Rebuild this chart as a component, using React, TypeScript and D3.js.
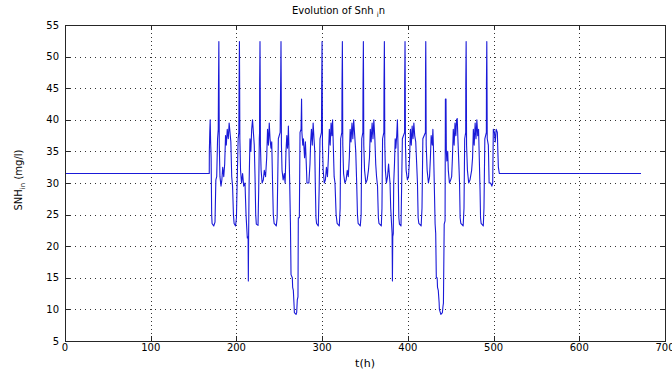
import React from 'react';
import * as d3 from 'd3';

const xTicks = [0, 100, 200, 300, 400, 500, 600, 700];
const yTicks = [5, 10, 15, 20, 25, 30, 35, 40, 45, 50, 55];

// [t (h), SNH_in (mg/l)]
const snhIn: [number, number][] = [
  [0, 31.5], [168.3, 31.5],
  // day 1
  [168.4, 35], [168.9, 38], [169.4, 40], [169.9, 36.5], [170.5, 34], [171.1, 25], [171.6, 23.6], [173.5, 23.2], [175, 23.8], [176, 30.5], [177, 31], [178, 37], [178.8, 38.5], [179.1, 46], [179.3, 49], [179.5, 52.4], [179.7, 46], [180.0, 36],
  [180.8, 31], [182, 29.5], [183, 30.5], [184, 32.5], [185.2, 31], [186.3, 33], [187.3, 37.5], [188.2, 36], [189.3, 38.5], [190.5, 37], [191.5, 39.5], [192.5, 38], [193.5, 36.5], [194.5, 31], [195.5, 29.5], [196.5, 25], [197.3, 23.6], [199, 23.2], [200, 24.5], [201, 31], [202, 37], [202.8, 38], [203.1, 46], [203.3, 49], [203.5, 52.4], [203.7, 47], [204, 37],
  // day 2
  [204.8, 32], [206, 30], [207.2, 31.5], [208.5, 29.5], [210, 30], [211.2, 25], [212.7, 21.3], [213.6, 21.5], [213.9, 14.5], [214.2, 21.3], [214.8, 30], [215.8, 37], [216.8, 35], [217.8, 38.5], [218.8, 40], [219.8, 38], [220.8, 36], [221.7, 31], [222.5, 25], [223.2, 23.5], [225.2, 23.3], [226, 29], [226.7, 37], [227, 38], [227.1, 46], [227.3, 49], [227.5, 52.4], [227.7, 47], [228, 36],
  // day 3
  [228.8, 32], [230, 30], [231.4, 30.5], [232.5, 32], [234, 31], [235.3, 34], [236.3, 38.5], [237.3, 36], [238.3, 39.5], [239.2, 37], [240.3, 35.5], [241.2, 36.5], [242, 31], [243, 25], [244, 23.6], [246.5, 23.2], [247.5, 24.5], [248.9, 37], [251, 38], [251.6, 46], [251.8, 49], [252, 52.4], [252.2, 47], [252.5, 36],
  // days 4-5
  [253.2, 32], [254.5, 30.5], [255.8, 31.5], [256.8, 30], [257.8, 35], [258.8, 37.5], [259.6, 35.5], [260.3, 37], [260.6, 39], [261.2, 36], [262, 31], [263, 23.6], [263.7, 15.5], [265.2, 15], [265.6, 13.5], [266.4, 13], [267.3, 10.5], [267.6, 9.5], [269.6, 9.2], [270.3, 9.5], [271, 11.5], [271.8, 12], [272.2, 24.5], [273.4, 24.5], [274.2, 38], [275.4, 38.5], [276, 43.3], [276.4, 38], [277.4, 36], [278.2, 37], [279.5, 34], [280.5, 36.5], [281.5, 33], [282.3, 30], [284.5, 30], [285.8, 33], [286.6, 36.5], [287.5, 38.5], [288.5, 36], [289.5, 39.5], [290.5, 37], [291.4, 35], [292, 30], [292.8, 24.5], [293.5, 23.6], [295.5, 23.2], [296.5, 29], [297.5, 37], [299.2, 38], [299.5, 46], [299.7, 49], [299.9, 52.4], [300.1, 47], [300.4, 36],
  // day 6
  [301.2, 32], [302.5, 30], [303.8, 30.5], [305, 32.5], [306.2, 31], [307.3, 34], [308.4, 38.5], [309.4, 36], [310.4, 39.5], [311.4, 37.5], [312.2, 40], [313, 36], [314, 31], [315, 30], [316.3, 25], [317.5, 23.6], [320, 23.2], [321, 26], [321.6, 37], [323, 38], [323.2, 46], [323.4, 49], [323.6, 52.4], [323.8, 47], [324.1, 36],
  // day 7
  [325, 31.5], [326.5, 30], [328, 30.5], [329.3, 32], [330.5, 31], [331.7, 34], [332.7, 38.5], [333.7, 36.5], [334.8, 39.5], [335.8, 37], [336.8, 40], [338, 37.5], [339.2, 35], [340.3, 30], [341.2, 25], [342, 23.6], [344.5, 23.2], [345.5, 25], [346.2, 37], [347.5, 38], [347.7, 46], [347.9, 49], [348.1, 52.4], [348.3, 47], [348.6, 36],
  // day 8
  [349.5, 32], [351, 30], [352.5, 30.5], [354, 32], [355.2, 34], [356.2, 38.5], [357.2, 36.5], [358.3, 39.5], [359.3, 37], [360.3, 40], [361.5, 37], [362.5, 33], [363.5, 31], [364.6, 29.5], [365.6, 24.5], [366.3, 23.6], [369, 23.2], [369.8, 26], [370.5, 37], [372, 38], [372.2, 46], [372.4, 49], [372.6, 52.4], [372.8, 47], [373.1, 36],
  // day 9
  [373.8, 32], [375, 30], [376.3, 31], [377.5, 33], [378.3, 31.5], [379.2, 30], [380, 26], [381, 23.5], [381.6, 22], [382, 14.5], [382.4, 21.5], [383, 22], [383.5, 30], [384.4, 33], [385.2, 37], [386, 35.5], [387, 37.5], [387.8, 40], [388.5, 36], [389, 29], [389.5, 24.5], [390.2, 23.5], [392, 23.2], [392.8, 30], [393.6, 37], [396.2, 38], [396.3, 46], [396.5, 49], [396.7, 52.4], [396.9, 47], [397.2, 36],
  // day 10
  [398, 32], [399.5, 30.5], [400.8, 31], [402, 34], [403, 38.5], [404, 36], [405, 39], [406, 37], [407, 39.5], [408, 37.5], [409.2, 36.5], [410.3, 33], [411.2, 30], [412, 24.5], [412.8, 23.6], [415.5, 23.2], [416.5, 26], [417.5, 37], [420.5, 38], [420.6, 46], [420.7, 49], [420.9, 52.4], [421.1, 47], [421.4, 36],
  // days 11-12
  [422.5, 32], [424, 30], [425.3, 31], [426.3, 34], [427.2, 37.5], [428.5, 36], [429.2, 38.5], [430, 35], [430.8, 30], [431.8, 23.5], [432.5, 22], [433.2, 15], [434.2, 15], [434.6, 13.5], [435.5, 13], [436.5, 11], [436.8, 10], [438.5, 9.2], [440.3, 9.5], [441, 10.5], [441.5, 11], [442.4, 23.5], [443.4, 24], [443.8, 43.3], [444.5, 43.3], [444.9, 35], [445.5, 33.5], [446.5, 35], [447.2, 32], [448.5, 30], [450, 30.5], [451.1, 31], [452, 34], [453, 38.5], [454, 36], [455, 39.5], [456, 37.5], [456.8, 40], [457.6, 40.2], [458.4, 37], [459.5, 33], [460.3, 30], [461, 24.5], [461.8, 23.6], [464.5, 23.2], [465.5, 26], [466.3, 37], [467.5, 38], [467.6, 46], [467.8, 49], [468, 52.4], [468.2, 47], [468.5, 36],
  // day 13
  [469.5, 32], [471, 30], [472.5, 30.5], [474.4, 32], [475.5, 34], [476.4, 38.5], [477.4, 36], [478.5, 39.5], [479.5, 37], [480.5, 40], [481.5, 37.5], [482.5, 38.5], [483.5, 33], [484.2, 29], [484.8, 24.5], [485.5, 23.6], [488, 23.2], [488.8, 26], [489.8, 37], [491.6, 38], [491.7, 46], [491.9, 49], [492.1, 52.4], [492.3, 47], [492.6, 37],
  // day 14 and after
  [493.9, 36], [494.8, 30], [496.6, 30], [498, 29.5], [499, 30], [499.7, 38.5], [501, 38], [502, 36.5], [503, 38.5], [504.4, 38], [505, 35], [505.6, 32.5], [506.7, 31.5], [672, 31.5],
];

const titleMain = 'Evolution of Snh ';
const titleSub = 'i';
const titleEnd = 'n';
const xLabel = 't(h)';

export default function App() {
  const W = 672, H = 374;
  const L = 65, R = 665, T = 25, B = 341;
  const x = d3.scaleLinear().domain([0, 700]).range([L, R]);
  const y = d3.scaleLinear().domain([5, 55]).range([B, T]);
  const line = d3.line<[number, number]>().x(d => x(d[0])).y(d => y(d[1]));
  const px = (v: number) => Math.round(v) + 0.5;
  const font = 'DejaVu Sans, Liberation Sans, Arial, sans-serif';
  const axisColor = '#262626';
  return (
    <svg width={W} height={H} style={{ position: 'absolute', left: 0, top: 0, background: '#fff' }}>
      <rect x={0} y={0} width={W} height={H} fill="#fff" />
      {/* grid */}
      {xTicks.slice(1, -1).map(t => (
        <line key={'gx' + t} x1={px(x(t))} x2={px(x(t))} y1={T} y2={B} stroke="#333" strokeWidth={1} strokeDasharray="1,3" />
      ))}
      {yTicks.slice(1, -1).map(t => (
        <line key={'gy' + t} x1={L} x2={R} y1={px(y(t))} y2={px(y(t))} stroke="#333" strokeWidth={1} strokeDasharray="1,4" />
      ))}
      {/* data */}
      <path d={line(snhIn) || ''} fill="none" stroke="#1a1ad8" strokeWidth={1.1} strokeLinejoin="round" />
      {/* box */}
      <rect x={L + 0.5} y={T + 0.5} width={R - L} height={B - T} fill="none" stroke={axisColor} strokeWidth={1} />
      {/* ticks */}
      {xTicks.map(t => (
        <g key={'tx' + t}>
          <line x1={px(x(t))} x2={px(x(t))} y1={B} y2={B - 5} stroke={axisColor} />
          <line x1={px(x(t))} x2={px(x(t))} y1={T} y2={T + 5} stroke={axisColor} />
          <text x={x(t)} y={351} fontFamily={font} fontSize={10} textAnchor="middle" fill="#000">{t}</text>
        </g>
      ))}
      {yTicks.map(t => (
        <g key={'ty' + t}>
          <line x1={L} x2={L + 5} y1={px(y(t))} y2={px(y(t))} stroke={axisColor} />
          <line x1={R - 5} x2={R} y1={px(y(t))} y2={px(y(t))} stroke={axisColor} />
          <text x={59} y={y(t)} dy="0.35em" fontFamily={font} fontSize={10} textAnchor="end" fill="#000">{t}</text>
        </g>
      ))}
      {/* title */}
      <text x={292} y={14} fontFamily={font} fontSize={10} fill="#000">
        {titleMain}
        <tspan fontSize={7} dy={3}>{titleSub}</tspan>
        <tspan dy={-3}>{titleEnd}</tspan>
      </text>
      {/* x label */}
      <text x={365} y={367} fontFamily={font} fontSize={11} textAnchor="middle" fill="#000">{xLabel}</text>
      {/* y label */}
      <text transform="translate(22,180) rotate(-90)" fontFamily={font} fontSize={10} textAnchor="middle" fill="#000">
        SNH<tspan fontSize={7} dy={3}>in</tspan><tspan dy={-3}> (mg/l)</tspan>
      </text>
    </svg>
  );
}
